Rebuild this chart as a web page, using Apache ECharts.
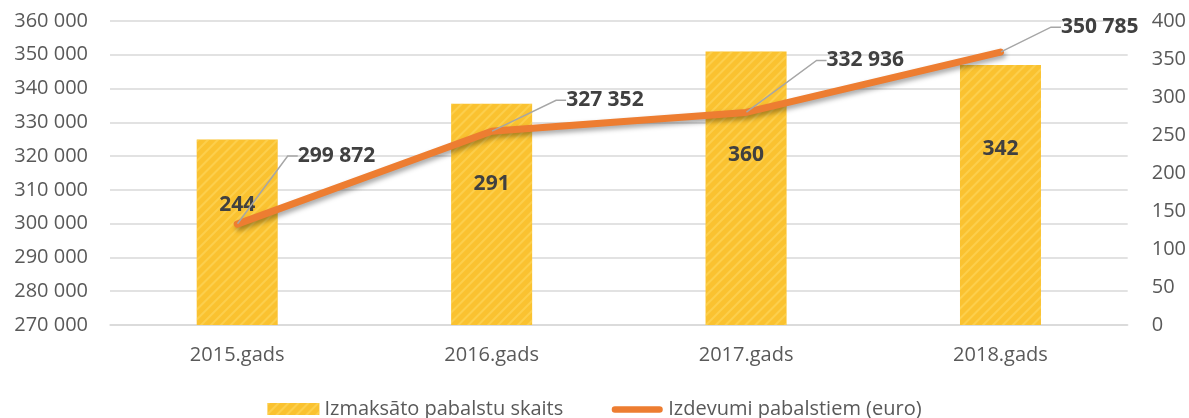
<!DOCTYPE html>
<html><head><meta charset="utf-8">
<script src="https://cdn.jsdelivr.net/npm/echarts@6/dist/echarts.min.js"></script>
<style>html,body{margin:0;padding:0;background:#fff}#c{width:1189px;height:418px}</style>
</head><body><div id="c"></div>
<script>
const categories = ['2015.gads', '2016.gads', '2017.gads', '2018.gads'];
const barName = 'Izmaksāto pabalstu skaits';
const lineName = 'Izdevumi pabalstiem (euro)';
const barValues = [244, 291, 360, 342];
const lineValues = [299872, 327352, 332936, 350785];
const leftTicks = [270000, 360000, 10000];
const rightTicks = [0, 400, 50];

const fmt = v => String(v).replace(/\B(?=(\d{3})+(?!\d))/g, ' ');
const FONT = 'Open Sans';
const chart = echarts.init(document.getElementById('c'));
const lineLabelShift = [[50, -68], [64, -31], [70, -52], [50, -25]];
const barLabelShift = [-27, -30, -33, -46];
const lineIcon = 'path://M0,0h0.01v0.01h-0.01z M56,12h0.01v0.01h-0.01z M4,3 H52 A3.5,3.5 0 0 1 52,10 H4 A3.5,3.5 0 0 1 4,3 Z';
chart.setOption({
  animation: false,
  textStyle: { fontFamily: FONT },
  grid: { left: 110, right: 61, top: 21, bottom: 93 },
  legend: {
    bottom: -6, left: 'center', itemGap: 48, itemWidth: 52, itemHeight: 12,
    textStyle: { fontFamily: FONT, fontSize: 20, color: '#595959' },
    data: [{ name: barName, icon: 'rect' },
           { name: lineName, icon: lineIcon, itemStyle: { color: '#ED7D31', opacity: 1 } }]
  },
  xAxis: {
    type: 'category', data: categories,
    axisLine: { lineStyle: { color: '#D9D9D9', width: 1.5 } },
    axisTick: { show: false },
    axisLabel: { fontFamily: FONT, fontSize: 20, color: '#595959', margin: 20 }
  },
  yAxis: [
    { type: 'value', min: leftTicks[0], max: leftTicks[1], interval: leftTicks[2],
      axisLine: { show: false }, axisTick: { show: false },
      splitLine: { lineStyle: { color: '#D9D9D9', width: 1.5 } },
      axisLabel: { fontFamily: FONT, fontSize: 20, color: '#595959', margin: 22, formatter: fmt } },
    { type: 'value', min: rightTicks[0], max: rightTicks[1], interval: rightTicks[2],
      axisLine: { show: false }, axisTick: { show: false }, splitLine: { show: false },
      axisLabel: { fontFamily: FONT, fontSize: 20, color: '#595959', margin: 24 } }
  ],
  series: [
    { name: barName, type: 'bar', yAxisIndex: 1, data: barValues, barWidth: 81,
      itemStyle: { color: '#FAC230',
        decal: { symbol: 'rect', color: 'rgba(255,222,110,0.45)', dashArrayX: [1, 0], dashArrayY: [2, 5], rotation: -Math.PI / 4 } },
      label: { show: true, position: 'inside', fontFamily: FONT, fontSize: 21, fontWeight: 'bold', color: '#404040' },
      labelLayout: p => ({ dy: barLabelShift[p.dataIndex] })
    },
    { name: lineName, type: 'line', yAxisIndex: 0, data: lineValues,
      symbol: 'circle', symbolSize: 1, showSymbol: true,
      lineStyle: { color: '#ED7D31', width: 7, cap: 'round', shadowColor: 'rgba(0,0,0,0.35)', shadowBlur: 5, shadowOffsetX: 2, shadowOffsetY: 3 },
      itemStyle: { color: '#ED7D31', opacity: 0 },
      label: { show: true, opacity: 1, position: 'right', distance: 0, padding: [0, 0, 0, 10],
        fontFamily: FONT, fontSize: 21, fontWeight: 'bold', color: '#404040', formatter: p => fmt(p.value) },
      labelLine: { show: true, length2: 10, lineStyle: { color: '#A6A6A6', width: 1.5, opacity: 1 } },
      labelLayout: p => ({ dx: lineLabelShift[p.dataIndex][0], dy: lineLabelShift[p.dataIndex][1] })
    }
  ]
});
</script></body></html>
